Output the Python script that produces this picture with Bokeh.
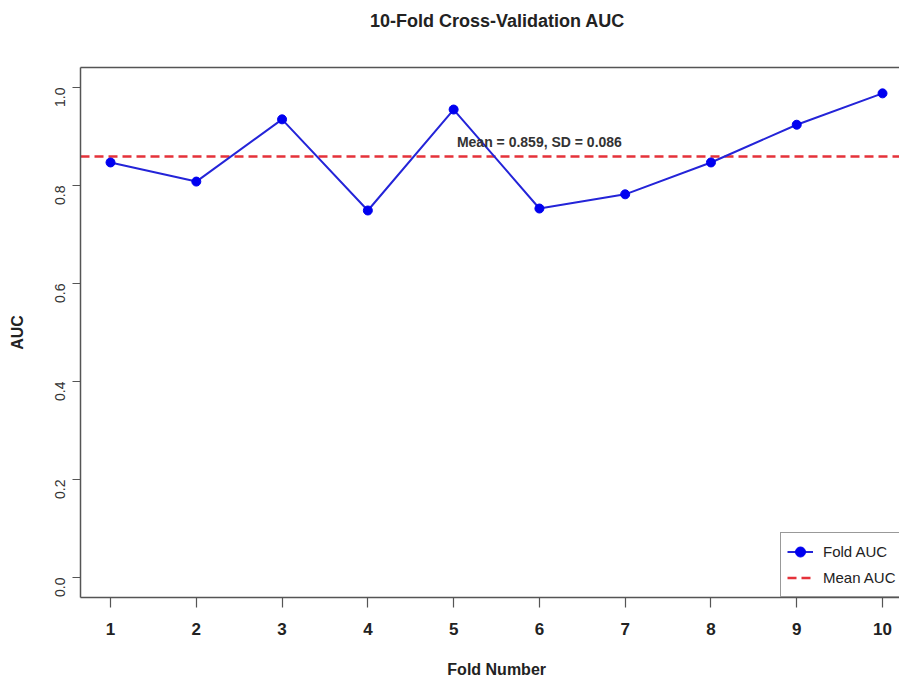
import math
from bokeh.plotting import figure
from bokeh.models import (ColumnDataSource, FixedTicker, PrintfTickFormatter, Legend,
                          LegendItem, LinearAxis, Range1d)
from bokeh.core.properties import value
from bokeh.embed import file_html
from bokeh.resources import INLINE

# ---- data ----
folds = [1, 2, 3, 4, 5, 6, 7, 8, 9, 10]
auc = [0.847, 0.808, 0.935, 0.749, 0.955, 0.753, 0.782, 0.847, 0.924, 0.988]
mean_auc = 0.859
sd_auc = 0.086
y_ticks = [0.0, 0.2, 0.4, 0.6, 0.8, 1.0]
title_text = "10-Fold Cross-Validation AUC"
x_label = "Fold Number"
y_label = "AUC"

NARROW = "'Liberation Sans Narrow', 'Liberation Sans', Arial, sans-serif"
REG = "'Liberation Sans', Arial, sans-serif"
NB = "\u00a0"

p = figure(width=899, height=682, output_backend="svg", toolbar_location=None,
           x_range=Range1d(0.65, 10.198), y_range=Range1d(-0.0408, 1.0408),
           min_border_left=80, min_border_right=0, min_border_top=67,
           min_border_bottom=85, title=NB * 3 + title_text)
p.background_fill_color = "white"
p.border_fill_color = "white"
p.outline_line_color = None
p.xgrid.visible = False
p.ygrid.visible = False

# title
p.title.text_font = NARROW
p.title.text_font_size = "18px"
p.title.text_font_style = "bold"
p.title.text_color = "#222222"
p.title.align = "center"
p.title.standoff = 10

# axes
AX = "#555555"
xa = p.xaxis[0]
xa.ticker = FixedTicker(ticks=folds)
xa.axis_label = NB * 3 + x_label
xa.axis_line_color = AX
xa.axis_line_width = 1.5
xa.major_tick_line_color = AX
xa.major_tick_line_width = 1.2
xa.major_tick_out = 10
xa.major_tick_in = 0
xa.minor_tick_out = 0
xa.minor_tick_in = 0
xa.major_label_standoff = 15
xa.major_label_text_font = NARROW
xa.major_label_text_font_size = "17px"
xa.major_label_text_font_style = "bold"
xa.major_label_text_color = "#222222"
xa.axis_label_standoff = 23
xa.axis_label_text_font = NARROW
xa.axis_label_text_font_size = "16px"
xa.axis_label_text_font_style = "bold"
xa.axis_label_text_color = "#222222"

ya = p.yaxis[0]
ya.ticker = FixedTicker(ticks=y_ticks)
ya.formatter = PrintfTickFormatter(format="%.1f")
ya.axis_label = y_label
ya.axis_line_color = AX
ya.axis_line_width = 1.5
ya.major_tick_line_color = AX
ya.major_tick_line_width = 1.2
ya.major_tick_out = 8
ya.major_tick_in = 0
ya.minor_tick_out = 0
ya.minor_tick_in = 0
ya.major_label_orientation = math.pi / 2
ya.major_label_standoff = 12
ya.major_label_text_font = REG
ya.major_label_text_font_size = "14px"
ya.major_label_text_color = "#333333"
ya.axis_label_standoff = 22
ya.axis_label_text_font = NARROW
ya.axis_label_text_font_size = "16px"
ya.axis_label_text_font_style = "bold"
ya.axis_label_text_color = "#222222"

# top border line (its blank label spaces the title upward)
top = LinearAxis(ticker=FixedTicker(ticks=[]), axis_line_color=AX, axis_line_width=1.5,
                 major_tick_out=0, major_tick_in=0, minor_tick_out=0, minor_tick_in=0,
                 major_label_text_font_size="0px", axis_label=NB,
                 axis_label_standoff=18, axis_label_text_font_size="10px")
p.add_layout(top, "above")

# data
src = ColumnDataSource(dict(x=folds, y=auc))
mean_r = p.hspan(y=[mean_auc], line_color="#E5323A", line_width=2.5, line_dash="9 5")
line_r = p.line("x", "y", source=src, line_color="#2424D8", line_width=2)
pts_r = p.scatter("x", "y", source=src, size=9, fill_color="#0000F0", line_color="#0000F0")

p.text(x=[6], y=[mean_auc + 0.03], text=[f"Mean = {mean_auc:.3f}, SD = {sd_auc:.3f}"],
       text_font=value(NARROW), text_font_size="14px", text_font_style="bold",
       text_color="#333333", text_align="center", text_baseline="middle")

legend = Legend(items=[LegendItem(label="Fold AUC", renderers=[line_r, pts_r]),
                       LegendItem(label="Mean AUC", renderers=[mean_r])],
                location=(700, 0), orientation="vertical")
legend.padding = 6
legend.margin = 0
legend.spacing = 1
legend.label_height = 25
legend.glyph_height = 25
legend.glyph_width = 26
legend.label_standoff = 10
legend.label_text_font = NARROW
legend.label_text_font_size = "15px"
legend.label_text_color = "#222222"
legend.border_line_color = "#333333"
legend.border_line_width = 1
legend.background_fill_color = "white"
legend.background_fill_alpha = 1
p.add_layout(legend)

open("out.html", "w").write(file_html(p, INLINE))
